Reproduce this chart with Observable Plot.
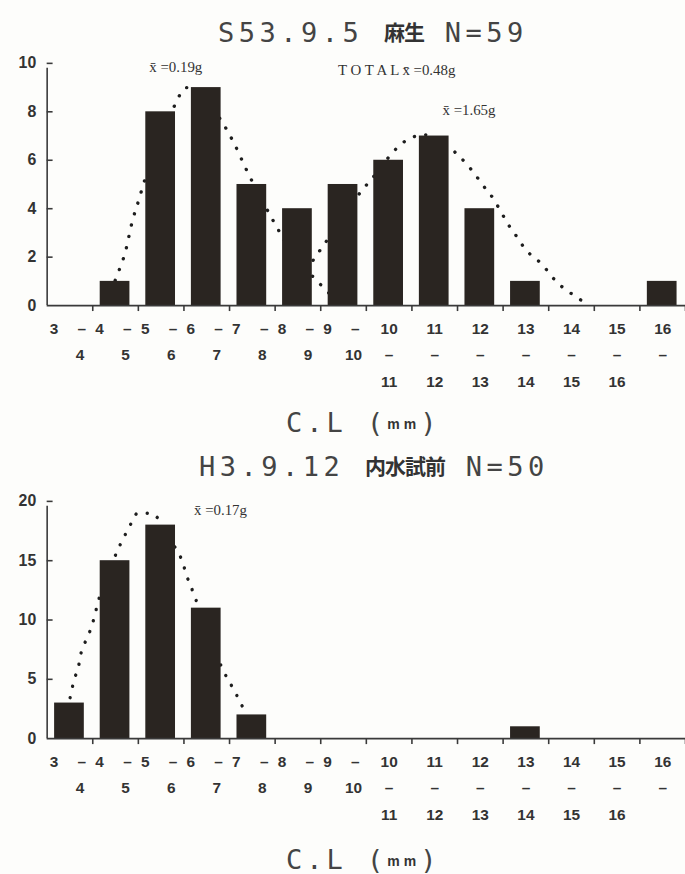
<!DOCTYPE html>
<html>
<head>
<meta charset="utf-8">
<script src="https://cdn.jsdelivr.net/npm/d3@7"></script>
<script src="https://cdn.jsdelivr.net/npm/@observablehq/plot@0.6"></script>
<style>
  html, body { margin: 0; padding: 0; background: #fdfdfb; overflow: hidden; }
  #wrap { position: relative; width: 685px; height: 874px; overflow: hidden; background: #fdfdfb; }
  .title { position: absolute; white-space: nowrap; font-family: "DejaVu Sans Mono", monospace; font-size: 27px; line-height: 30px; color: #444; letter-spacing: 4.5px; }
  .title .cj { font-family: "Noto Sans CJK JP", sans-serif; font-weight: bold; font-size: 21px; letter-spacing: -1px; color: #333; vertical-align: 2px; }
  .xl { position: absolute; white-space: nowrap; font-family: "DejaVu Sans Mono", monospace; font-size: 27px; line-height: 30px; color: #444; letter-spacing: 4px; }
  .xl b { font-family: "Liberation Sans", sans-serif; font-size: 14px; font-weight: bold; letter-spacing: 4px; vertical-align: 3px; color: #333; }
  .plot { position: absolute; left: 0; }
  .plot svg { overflow: visible; }
</style>
</head>
<body>
<div id="wrap">
  <div class="title" style="left:218px; top:16px;">S53.9.5 <span class="cj">麻生</span> N=59</div>
  <div class="xl" style="left:286px; top:408px;">C.L (<b>mm</b>)</div>
  <div class="title" style="left:199px; top:450px;">H3.9.12 <span class="cj">内水試前</span> N=50</div>
  <div class="xl" style="left:286px; top:845px;">C.L (<b>mm</b>)</div>
  <div class="plot" id="p1" style="top:45px;"></div>
  <div class="plot" id="p2" style="top:485px;"></div>
</div>
<script>
// ---- data ----
const binLo = [3, 4, 5, 6, 7, 8, 9, 10, 11, 12, 13, 14, 15, 16];
const binHi = [4, 5, 6, 7, 8, 9, 10, 11, 12, 13, 14, 15, 16, null];
const countsS53 = [0, 1, 8, 9, 5, 4, 5, 6, 7, 4, 1, 0, 0, 1];
const countsH3  = [3, 15, 18, 11, 2, 0, 0, 0, 0, 0, 1, 0, 0, 0];
const yTicksS53 = [0, 2, 4, 6, 8, 10];
const yTicksH3 = [0, 5, 10, 15, 20];

// dotted fitted curves: [C.L, count]
const curveS53a = [[4.4,0.6],[4.53,1.23],[4.72,2.25],[4.87,3.5],[5.0,4.3],[5.11,5.0],[5.45,6.8],[5.75,8.07],[5.88,8.6],[6.05,9.0],[6.4,8.6],[6.83,7.6],[7.1,6.7],[7.36,5.65],[7.9,3.7],[8.14,2.9],[8.5,1.8],[8.88,1.1],[9.06,0.74],[9.3,0.3]];
const curveS53b = [[8.4,0.7],[8.88,2.0],[9.4,3.4],[9.88,4.7],[10.15,5.3],[10.67,6.5],[10.95,6.9],[11.3,7.05],[11.6,6.85],[11.98,6.27],[12.22,5.8],[12.39,5.4],[12.56,4.96],[12.78,4.43],[12.96,3.85],[13.13,3.3],[13.28,2.9],[13.46,2.4],[13.68,1.97],[13.83,1.76],[14.07,1.19],[14.29,0.78],[14.5,0.49],[14.76,0.16]];
const curveH3 = [[3.4,2.6],[3.48,3.1],[3.54,4.1],[3.59,5.0],[3.68,5.9],[3.72,6.8],[3.89,8.6],[3.98,9.5],[4.05,10.5],[4.13,11.7],[4.35,14.0],[4.57,16.1],[4.70,17.1],[4.85,18.2],[4.98,19.0],[5.13,19.0],[5.29,19.0],[5.40,18.7],[5.6,17.5],[5.85,15.8],[5.98,14.8],[6.05,13.8],[6.14,13.0],[6.22,12.1],[6.33,11.1],[6.6,8.2],[6.88,5.6],[7.01,4.7],[7.14,3.8],[7.27,2.8],[7.4,2.1]];

const annS53 = [
  {text: "x\u0304 =0.19g", x: 5.24, y: 9.84},
  {text: "T O T A L x\u0304 =0.48g", x: 9.38, y: 9.7},
  {text: "x\u0304 =1.65g", x: 11.67, y: 8.07}
];
const annH3 = [{text: "x\u0304 =0.17g", x: 6.22, y: 19.25}];

// ---- build ----
const INK = "#2a2521";
const AX = "#3a3a3a";
const DASH = "\u2013";

function labelRows(){
  const rows = [];
  binLo.forEach((lo, i) => {
    const hi = binHi[i];
    if (lo < 10) {
      rows.push({x: lo + 0.15, row: 0, t: String(lo)});
      rows.push({x: lo + 0.76, row: 0, t: DASH});
      rows.push({x: lo + 0.72, row: 1, t: String(hi)});
    } else {
      rows.push({x: lo + 0.5, row: 0, t: String(lo)});
      rows.push({x: lo + 0.5, row: 1, t: DASH});
      if (hi != null) rows.push({x: lo + 0.5, row: 2, t: String(hi)});
    }
  });
  return rows;
}

function chart(counts, yTicks, ymax, curves, ann, marginTop, innerH) {
  const bins = binLo.map((lo, i) => ({lo, hi: lo + 1, count: counts[i]}));
  const curvePts = curves.flatMap((c, k) => c.map(([x, y]) => ({x, y, k})));
  const rows = labelRows();
  const rowDy = [24, 50, 77];
  return Plot.plot({
    width: 690,
    height: marginTop + innerH + 100,
    marginLeft: 47,
    marginRight: 0,
    marginTop,
    marginBottom: 100,
    x: {domain: [3, 17], axis: null},
    y: {domain: [0, ymax], axis: null},
    style: {background: "transparent", overflow: "visible"},
    marks: [
      Plot.line(curvePts, {x: "x", y: "y", z: "k", curve: "monotone-x", stroke: "#1e1e1e", strokeWidth: 3.4, strokeDasharray: "0.1 11.5", strokeLinecap: "round"}),
      Plot.rectY(bins, {x1: "lo", x2: "hi", y: "count", fill: INK, insetLeft: 7.5, insetRight: 8.5}),
      Plot.ruleY([0], {x1: 3, x2: 17, stroke: AX, strokeWidth: 1.6}),
      Plot.ruleX([3], {y1: 0, y2: ymax, stroke: AX, strokeWidth: 1.6, insetBottom: -5}),
      Plot.ruleY(yTicks.filter(d => d > 0), {y: d => d, x1: 3, x2: 3.13, stroke: AX, strokeWidth: 1.6}),
      Plot.ruleX(binLo.slice(1).concat([17]), {x: d => d, y1: 0, y2: 0, insetBottom: -6, stroke: AX, strokeWidth: 1.6}),
      Plot.text(yTicks, {x: 3, y: d => d, text: d => String(d), dx: -11, textAnchor: "end", fontFamily: "Liberation Sans, Arial, sans-serif", fontWeight: "bold", fontSize: 16, fill: "#333", letterSpacing: 1}),
      ...[0, 1, 2].map(r => Plot.text(rows.filter(d => d.row === r), {x: "x", y: 0, text: "t", dy: rowDy[r], fontFamily: "Liberation Sans, Arial, sans-serif", fontWeight: "bold", fontSize: 15.5, fill: "#333", letterSpacing: 1.5})),
      Plot.text(ann, {x: "x", y: "y", text: "text", textAnchor: "start", fontFamily: "Liberation Serif, Times New Roman, serif", fontSize: 15, fill: "#333"})
    ]
  });
}

document.getElementById("p1").append(chart(countsS53, yTicksS53, 10, [curveS53a, curveS53b], annS53, 18, 244));
document.getElementById("p2").append(chart(countsH3, yTicksH3, 20, [curveH3], annH3, 16, 239));
</script>
</body>
</html>
